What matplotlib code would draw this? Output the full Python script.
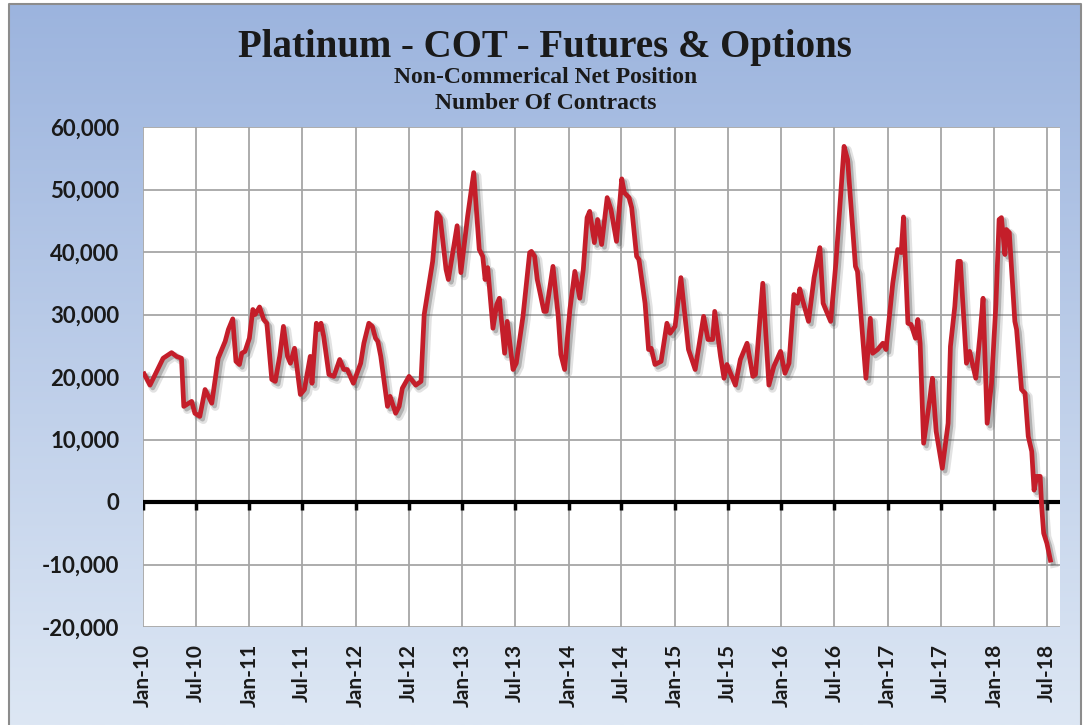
import numpy as np
import pandas as pd
import matplotlib
matplotlib.use("Agg")
import matplotlib.pyplot as plt
import matplotlib.patheffects as pe
from matplotlib.ticker import FuncFormatter

# non-commercial net position (contracts)
dates = [
    "2010-01-05", "2010-01-25", "2010-03-11", "2010-04-09", "2010-04-26", "2010-05-13",
    "2010-05-21", "2010-06-17", "2010-06-28", "2010-07-15", "2010-08-02", "2010-08-25",
    "2010-09-16", "2010-10-10", "2010-10-21", "2010-11-05", "2010-11-16", "2010-11-28",
    "2010-12-06", "2010-12-17", "2011-01-01", "2011-01-13", "2011-01-21", "2011-02-05",
    "2011-02-19", "2011-03-02", "2011-03-19", "2011-03-31", "2011-04-15", "2011-04-28",
    "2011-05-12", "2011-05-22", "2011-06-05", "2011-06-25", "2011-07-09", "2011-07-29",
    "2011-08-04", "2011-08-19", "2011-08-27", "2011-09-04", "2011-09-13", "2011-10-01",
    "2011-10-18", "2011-11-07", "2011-11-21", "2011-12-03", "2011-12-24", "2012-01-18",
    "2012-01-29", "2012-02-15", "2012-02-27", "2012-03-09", "2012-03-17", "2012-03-27",
    "2012-04-19", "2012-04-28", "2012-05-17", "2012-05-29", "2012-06-09", "2012-07-02",
    "2012-07-25", "2012-08-12", "2012-08-23", "2012-09-09", "2012-09-21", "2012-10-06",
    "2012-10-17", "2012-11-06", "2012-11-14", "2012-12-14", "2012-12-27", "2013-01-19",
    "2013-02-09", "2013-02-28", "2013-03-12", "2013-03-20", "2013-03-29", "2013-04-16",
    "2013-04-29", "2013-05-08", "2013-05-26", "2013-06-04", "2013-06-24", "2013-07-05",
    "2013-07-28", "2013-08-20", "2013-08-26", "2013-09-06", "2013-09-15", "2013-10-08",
    "2013-10-16", "2013-11-08", "2013-11-26", "2013-12-05", "2013-12-18", "2014-01-05",
    "2014-01-22", "2014-02-08", "2014-02-20", "2014-03-05", "2014-03-14", "2014-03-30",
    "2014-04-10", "2014-04-24", "2014-05-13", "2014-05-26", "2014-06-14", "2014-07-02",
    "2014-07-11", "2014-07-27", "2014-08-05", "2014-08-22", "2014-08-30", "2014-09-20",
    "2014-10-02", "2014-10-11", "2014-10-24", "2014-11-14", "2014-12-04", "2014-12-15",
    "2015-01-01", "2015-01-21", "2015-02-16", "2015-03-11", "2015-04-09", "2015-04-24",
    "2015-05-10", "2015-05-17", "2015-06-06", "2015-06-18", "2015-06-28", "2015-07-27",
    "2015-08-13", "2015-09-05", "2015-09-25", "2015-10-04", "2015-10-29", "2015-11-19",
    "2015-12-06", "2015-12-29", "2016-01-13", "2016-01-27", "2016-02-13", "2016-02-25",
    "2016-03-04", "2016-03-13", "2016-04-03", "2016-04-22", "2016-05-12", "2016-05-23",
    "2016-06-18", "2016-07-06", "2016-08-03", "2016-08-15", "2016-08-26", "2016-09-11",
    "2016-09-18", "2016-10-17", "2016-11-01", "2016-11-09", "2016-11-26", "2016-12-14",
    "2016-12-25", "2017-01-17", "2017-02-03", "2017-02-15", "2017-02-23", "2017-03-10",
    "2017-03-21", "2017-04-05", "2017-04-13", "2017-04-21", "2017-05-03", "2017-05-24",
    "2017-06-02", "2017-06-15", "2017-07-06", "2017-07-26", "2017-08-03", "2017-08-18",
    "2017-08-29", "2017-09-06", "2017-09-27", "2017-10-08", "2017-10-17", "2017-10-29",
    "2017-11-12", "2017-11-23", "2017-12-07", "2017-12-22", "2018-01-06", "2018-01-17",
    "2018-01-25", "2018-02-06", "2018-02-11", "2018-02-21", "2018-03-12", "2018-03-18",
    "2018-04-04", "2018-04-16", "2018-04-27", "2018-05-09", "2018-05-17", "2018-05-26",
    "2018-06-07", "2018-06-12", "2018-06-19", "2018-06-30", "2018-07-12",
]
net_pos = [
    20500, 18700, 23000, 23900, 23300, 23000,
    15300, 16100, 14200, 13700, 18000, 15800,
    23000, 25700, 27600, 29300, 22500, 22000,
    23800, 24100, 26200, 30800, 30000, 31200,
    29200, 28600, 19600, 19300, 23300, 28100,
    23300, 22200, 24600, 17200, 18000, 23300,
    19000, 28600, 27600, 28600, 26500, 20400,
    20100, 22800, 21200, 21200, 19000, 22200,
    25400, 28600, 28100, 26200, 25700, 23300,
    15300, 16900, 14200, 15300, 18200, 20100,
    18700, 19300, 30000, 35000, 38500, 46300,
    45500, 37200, 35600, 44200, 36700, 45700,
    52700, 40400, 39300, 35600, 37500, 27800,
    31600, 32600, 23800, 28900, 21200, 22200,
    29700, 39900, 40100, 39300, 35600, 30500,
    30500, 37700, 29700, 23600, 21200, 30800,
    36900, 32600, 37200, 45500, 46500, 41500,
    45200, 41200, 48700, 46800, 41700, 51700,
    49500, 48700, 47100, 39300, 38800, 31800,
    24400, 24600, 22000, 22500, 28600, 27000,
    28100, 35900, 24400, 21200, 29700, 26000,
    26000, 30500, 23300, 19800, 22000, 18700,
    22800, 25400, 20100, 20400, 35000, 18700,
    21700, 24100, 20600, 22200, 33200, 31800,
    34100, 32400, 28900, 35900, 40700, 31800,
    28900, 38300, 56900, 54800, 47900, 37700,
    36900, 19800, 29400, 23800, 24400, 25400,
    24400, 35000, 40400, 39900, 45600, 28600,
    28400, 26200, 29200, 25400, 9400, 16400,
    19800, 11300, 5400, 12600, 24900, 31300,
    38500, 38500, 22200, 24100, 22200, 19800,
    26500, 32600, 12600, 19000, 31600, 45200,
    45500, 39600, 43600, 43100, 28900, 27600,
    18000, 17400, 10500, 8100, 1900, 4100,
    4100, -700, -5000, -6600, -9300,
]

y_ticks = [-20000, -10000, 0, 10000, 20000, 30000, 40000, 50000, 60000]
x_ticks = pd.date_range("2010-01-01", "2018-07-01", freq="6MS")

title = "Platinum - COT - Futures & Options"
sub1 = "Non-Commerical Net Position"
sub2 = "Number Of Contracts"

d = pd.to_datetime(dates)

fig = plt.figure(figsize=(10.84, 7.25), dpi=100)
fig.patch.set_facecolor("white")

# gradient background box
bg = fig.add_axes([0, 0, 1, 1], zorder=-10)
grad = np.linspace(0, 1, 256).reshape(-1, 1)
top = np.array([0x9c, 0xb4, 0xde]) / 255
bot = np.array([0xdd, 0xe7, 0xf4]) / 255
img = top + (bot - top) * grad[..., None]
x0, x1 = 9 / 1084, 1081 / 1084
y0, y1 = 0.0, 1 - 4 / 725
bg.imshow(img, extent=[x0, x1, y0, y1], aspect="auto", origin="upper")
bg.plot([x0, x0, x1, x1], [y0, y1, y1, y0], color="#8c8c8c", lw=1.5)
bg.set_xlim(0, 1)
bg.set_ylim(0, 1)
bg.axis("off")

ax = fig.add_axes([143 / 1084, (725 - 627) / 725, (1060 - 143) / 1084, (627 - 127) / 725])
ax.set_facecolor("white")

ax.plot(d, net_pos, color="#c41e2a", lw=3.4, solid_joinstyle="round", zorder=5,
        path_effects=[pe.SimpleLineShadow(offset=(2.5, -2.5), shadow_color="#606060", alpha=0.18, linewidth=6),
                      pe.SimpleLineShadow(offset=(2, -2), shadow_color="#404040", alpha=0.3),
                      pe.Normal()])

ax.axhline(0, color="black", lw=3, zorder=4)
ax.plot(x_ticks, np.zeros(len(x_ticks)), ls="none", marker=3, ms=6, mew=2.5,
        color="black", zorder=4)

ax.set_ylim(-20000, 60000)
ax.set_xlim(pd.Timestamp("2010-01-01"), pd.Timestamp("2018-08-14"))
ax.set_yticks(y_ticks)
ax.set_xticks(x_ticks)
ax.yaxis.set_major_formatter(FuncFormatter(lambda v, p: f"{int(v):,}"))
ax.set_xticklabels([t.strftime("%b-%y") for t in x_ticks], rotation=90)
ax.grid(True, color="#a6a6a6", lw=1.3, zorder=0)
ax.set_axisbelow(True)
ax.tick_params(axis="y", length=0, pad=17)
ax.tick_params(axis="x", length=0, pad=12)
for lab in ax.get_xticklabels() + ax.get_yticklabels():
    lab.set_fontfamily("Lato")
    lab.set_fontweight("bold")
    lab.set_fontsize(15)
    lab.set_color("#1a1a1a")
for lab in ax.get_yticklabels():
    lab.set_fontsize(16)
for s in ax.spines.values():
    s.set_visible(False)

fig.text(0.503, 1 - 57 / 725, title, ha="center", va="baseline", family="Liberation Serif",
         weight="bold", fontsize=28, color="#1a1a1a")
fig.text(0.503, 1 - 83 / 725, sub1, ha="center", va="baseline", family="Liberation Serif",
         weight="bold", fontsize=17, color="#1a1a1a")
fig.text(0.503, 1 - 109 / 725, sub2, ha="center", va="baseline", family="Liberation Serif",
         weight="bold", fontsize=17, color="#1a1a1a")

fig.savefig("out.png", dpi=100)
